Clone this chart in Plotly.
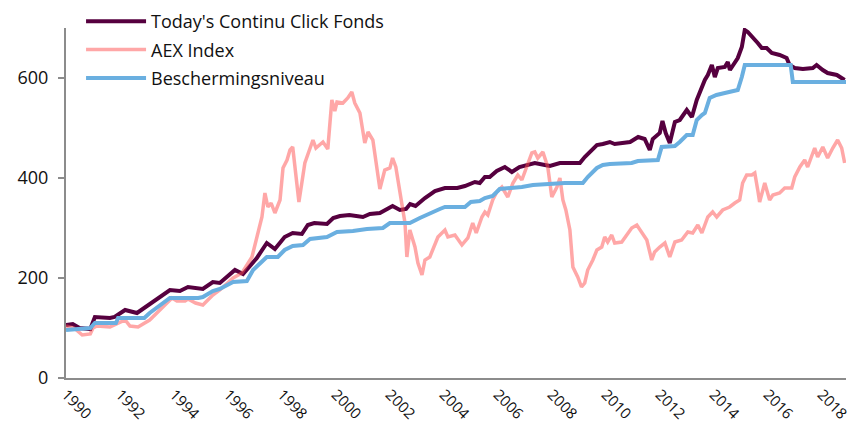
import plotly.graph_objects as go

fund_t = [1990.0, 1990.25, 1990.5, 1990.9, 1991.07, 1991.4, 1991.63, 1991.8, 1992.19, 1992.63,
          1993.04, 1993.48, 1993.85, 1994.22, 1994.52, 1995.07, 1995.44, 1995.7, 1996.26, 1996.56,
          1997.07, 1997.44, 1997.74, 1998.1, 1998.4, 1998.74, 1998.96, 1999.2, 1999.67, 1999.9,
          2000.15, 2000.5, 2000.9, 2001.0, 2001.26, 2001.63, 2001.9, 2002.1, 2002.37, 2002.6,
          2002.75, 2002.95, 2003.3, 2003.67, 2004.04, 2004.3, 2004.5, 2004.78, 2005.15, 2005.33,
          2005.52, 2005.7, 2005.96, 2006.26, 2006.52, 2006.8, 2007.07, 2007.37, 2007.74, 2007.93,
          2008.3, 2008.6, 2009.04, 2009.22, 2009.41, 2009.67, 2009.89, 2010.15, 2010.33, 2010.59,
          2010.9, 2011.2, 2011.44, 2011.63, 2011.74, 2012.0, 2012.1, 2012.22, 2012.37, 2012.56,
          2012.74, 2013.0, 2013.19, 2013.37, 2013.56, 2013.67, 2013.78, 2013.93, 2014.04, 2014.15,
          2014.41, 2014.52, 2014.6, 2014.78, 2014.89, 2015.04, 2015.15, 2015.26, 2015.44, 2015.63,
          2015.78, 2015.96, 2016.15, 2016.44, 2016.7, 2016.81, 2017.0, 2017.3, 2017.67, 2017.81,
          2018.04, 2018.22, 2018.56, 2018.85]
fund_v = [106, 108, 100, 98, 122, 121, 120, 122, 136, 130,
          146, 164, 176, 174, 182, 178, 192, 190, 216, 208,
          240, 270, 258, 282, 290, 288, 306, 310, 308, 320,
          324, 326, 324, 322, 328, 330, 338, 344, 336, 338,
          348, 344, 360, 374, 380, 380, 380, 384, 392, 390,
          402, 402, 414, 422, 412, 422, 426, 430, 426, 424,
          430, 430, 430, 442, 452, 466, 468, 472, 468, 470,
          472, 482, 478, 456, 478, 490, 514, 490, 470, 512,
          516, 536, 522, 556, 582, 596, 606, 626, 602, 620,
          622, 632, 616, 632, 640, 662, 696, 692, 682, 670,
          660, 660, 650, 646, 640, 626, 620, 618, 620, 626,
          616, 610, 606, 596]

aex_t = [1990.0, 1990.3, 1990.6, 1990.9, 1991.0, 1991.15, 1991.63, 1991.93, 1992.19, 1992.37,
         1992.67, 1993.1, 1993.3, 1993.48, 1993.74, 1993.93, 1994.11, 1994.41, 1994.52, 1994.8,
         1995.07, 1995.44, 1995.7, 1996.19, 1996.52, 1996.89, 1997.07, 1997.26, 1997.37, 1997.48,
         1997.6, 1997.74, 1997.93, 1998.04, 1998.19, 1998.3, 1998.4, 1998.52, 1998.63, 1998.85,
         1999.04, 1999.15, 1999.26, 1999.52, 1999.7, 1999.85, 1999.96, 2000.04, 2000.26, 2000.44,
         2000.59, 2000.7, 2000.89, 2001.07, 2001.19, 2001.37, 2001.63, 2001.81, 2002.0, 2002.1,
         2002.22, 2002.37, 2002.56, 2002.63, 2002.74, 2002.93, 2003.04, 2003.19, 2003.3, 2003.48,
         2003.67, 2003.78, 2004.04, 2004.15, 2004.41, 2004.67, 2004.89, 2005.07, 2005.2, 2005.41,
         2005.52, 2005.63, 2005.81, 2005.96, 2006.15, 2006.37, 2006.56, 2006.74, 2006.89, 2007.07,
         2007.26, 2007.37, 2007.48, 2007.67, 2007.85, 2008.0, 2008.19, 2008.3, 2008.41, 2008.52,
         2008.67, 2008.78, 2008.96, 2009.1, 2009.22, 2009.33, 2009.52, 2009.67, 2009.85, 2009.96,
         2010.07, 2010.22, 2010.33, 2010.59, 2010.81, 2010.96, 2011.15, 2011.33, 2011.52, 2011.7,
         2011.81, 2012.0, 2012.19, 2012.37, 2012.56, 2012.81, 2013.04, 2013.22, 2013.41, 2013.56,
         2013.78, 2013.96, 2014.11, 2014.33, 2014.59, 2014.78, 2014.96, 2015.07, 2015.22, 2015.41,
         2015.52, 2015.63, 2015.7, 2015.89, 2016.07, 2016.19, 2016.44, 2016.63, 2016.89, 2017.0,
         2017.19, 2017.37, 2017.48, 2017.74, 2017.85, 2018.04, 2018.22, 2018.41, 2018.59, 2018.74,
         2018.85]
aex_v = [104, 100, 86, 88, 100, 104, 102, 110, 116, 104,
         102, 116, 126, 136, 150, 160, 154, 154, 158, 150,
         146, 166, 176, 200, 210, 242, 280, 322, 370, 342,
         350, 330, 356, 420, 436, 456, 462, 410, 352, 430,
         462, 476, 460, 472, 458, 556, 534, 552, 550, 560,
         572, 550, 530, 470, 492, 476, 378, 416, 420, 440,
         422, 376, 310, 242, 296, 262, 230, 206, 236, 242,
         266, 282, 296, 282, 286, 266, 280, 310, 290, 322,
         332, 326, 356, 372, 382, 362, 390, 406, 396, 422,
         450, 452, 440, 452, 422, 362, 382, 400, 356, 336,
         296, 222, 202, 182, 190, 216, 236, 256, 262, 282,
         272, 286, 270, 272, 290, 300, 306, 292, 276, 236,
         252, 262, 270, 242, 272, 276, 292, 290, 306, 290,
         322, 332, 322, 336, 342, 350, 356, 390, 406, 406,
         410, 376, 352, 390, 356, 366, 370, 380, 380, 402,
         422, 436, 422, 460, 442, 462, 440, 460, 476, 460,
         430]

prot_t = [1990.0, 1990.9, 1991.07, 1991.85, 1991.93, 1992.9, 1993.1, 1993.48, 1993.85, 1994.9,
          1995.07, 1995.44, 1995.7, 1996.19, 1996.7, 1996.93, 1997.44, 1997.85, 1998.1, 1998.4,
          1998.78, 1999.04, 1999.67, 2000.04, 2000.63, 2001.15, 2001.74, 2002.0, 2002.74, 2003.11,
          2003.48, 2003.85, 2004.04, 2004.78, 2005.0, 2005.33, 2005.52, 2005.81, 2006.07, 2006.52,
          2006.89, 2007.3, 2007.74, 2008.48, 2009.15, 2009.33, 2009.67, 2009.89, 2010.15, 2010.96,
          2011.19, 2011.93, 2012.07, 2012.56, 2012.74, 2012.93, 2013.0, 2013.22, 2013.37, 2013.56,
          2013.67, 2013.85, 2014.1, 2014.41, 2014.6, 2014.89, 2015.04, 2015.15, 2016.85, 2016.93,
          2018.9]
prot_v = [96, 100, 110, 110, 120, 120, 130, 144, 160, 160,
          162, 174, 178, 192, 194, 216, 242, 242, 256, 264,
          266, 278, 282, 292, 294, 298, 300, 310, 310, 320,
          330, 338, 342, 342, 352, 354, 360, 364, 378, 380,
          382, 386, 388, 390, 390, 402, 420, 426, 428, 430,
          434, 436, 462, 464, 472, 484, 486, 486, 516, 526,
          530, 560, 566, 570, 572, 576, 602, 626, 626, 592,
          592]

series_names = ["Today's Continu Click Fonds", "AEX Index", "Beschermingsniveau"]
y_ticks = [0, 200, 400, 600]
x_ticks = list(range(1990, 2019, 2))

FONT = "Open Sans"
fig = go.Figure()
fig.add_trace(go.Scatter(x=fund_t, y=fund_v, mode="lines", name=series_names[0], legendgroup="a",
                         line=dict(color="#56003F", width=4)))
fig.add_trace(go.Scatter(x=aex_t, y=aex_v, mode="lines", name=series_names[1], legendgroup="b",
                         line=dict(color="rgba(255,80,80,0.5)", width=3.5)))
fig.add_trace(go.Scatter(x=prot_t, y=prot_v, mode="lines", name=series_names[2], legendgroup="c",
                         line=dict(color="#6AAFE0", width=4)))

fig.update_layout(
    width=856, height=427,
    margin=dict(l=66, r=10, t=10, b=49, autoexpand=False),
    paper_bgcolor="white", plot_bgcolor="white",
    font=dict(family=FONT, size=17, color="#111111"),
    showlegend=True,
    legend=dict(x=0.0193, y=1.019, xanchor="left", yanchor="top", bgcolor="rgba(0,0,0,0)",
                itemwidth=60, tracegroupgap=2, font=dict(size=18)),
    xaxis=dict(range=[1990, 2018.9], tickvals=x_ticks, ticktext=[str(v) for v in x_ticks],
               tickangle=45, showgrid=False, zeroline=False, showline=True, automargin=False,
               linecolor="#8c8c8c", linewidth=2, ticks="", tickfont=dict(size=15)),
    yaxis=dict(range=[0, 700], domain=[0, 350 / 368], tickvals=y_ticks, showgrid=False,
               zeroline=False, showline=True, automargin=False, ticklabelstandoff=6,
               linecolor="#8c8c8c", linewidth=2, ticks="outside", ticklen=6, tickwidth=2,
               tickcolor="#8c8c8c", tickfont=dict(size=18)),
)
fig.write_html("out.html", config={"displayModeBar": False},
               post_script="document.body.style.margin='0';document.body.style.overflow='hidden';")
